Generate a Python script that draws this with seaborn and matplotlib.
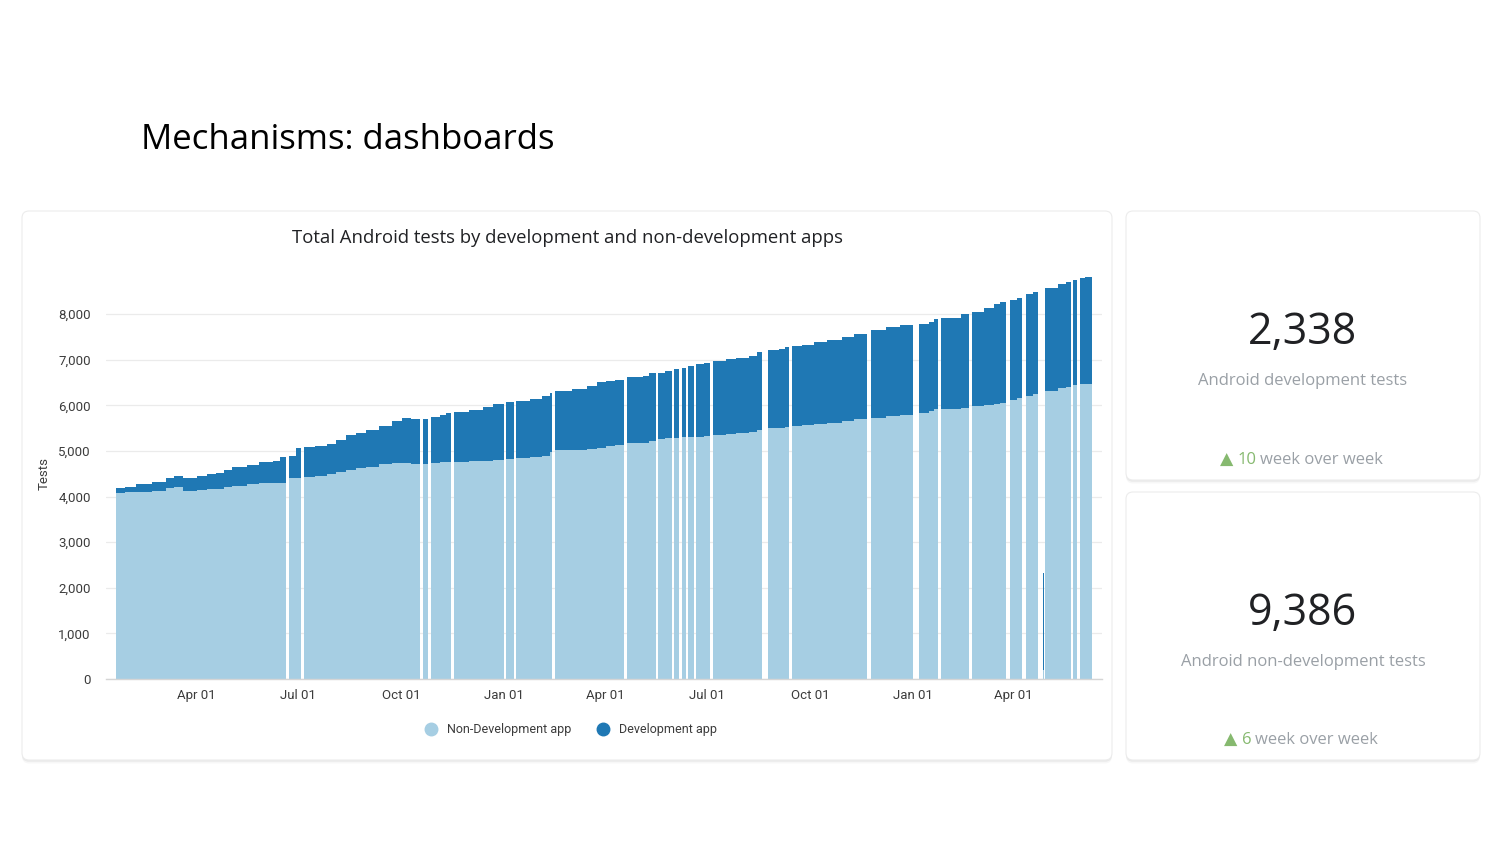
"""
Dashboard slide: daily Android test counts split by development / non-development apps,
plus two KPI cards on the right.
"""

import numpy as np
import pandas as pd
import matplotlib
matplotlib.use("Agg")
import matplotlib.pyplot as plt
import matplotlib.dates as mdates
from matplotlib.lines import Line2D
from matplotlib.patches import FancyBboxPatch
from matplotlib.ticker import FuncFormatter
import seaborn as sns

sns.set_style("whitegrid")
plt.rcParams["font.family"] = ["Roboto", "DejaVu Sans"]

# --- data ---
# each row starts a run of days that holds the same value until the next row;
# rows with 0 / 0 are days without any data (white gaps in the chart)
bar_start = [
    "2019-01-19", "2019-01-27", "2019-02-06", "2019-02-20", "2019-03-05", "2019-03-12",
    "2019-03-20", "2019-04-01", "2019-04-10", "2019-04-18", "2019-04-26", "2019-05-03",
    "2019-05-16", "2019-05-27", "2019-06-08", "2019-06-15", "2019-06-20", "2019-06-23",
    "2019-06-29", "2019-07-03", "2019-07-06", "2019-07-16", "2019-07-27", "2019-08-04",
    "2019-08-13", "2019-08-22", "2019-08-31", "2019-09-11", "2019-09-23", "2019-10-02",
    "2019-10-10", "2019-10-18", "2019-10-21", "2019-10-25", "2019-10-28", "2019-11-05",
    "2019-11-10", "2019-11-15", "2019-11-17", "2019-12-01", "2019-12-13", "2019-12-22",
    "2020-01-01", "2020-01-03", "2020-01-10", "2020-01-12", "2020-01-24", "2020-02-04",
    "2020-02-11", "2020-02-13", "2020-02-16", "2020-03-02", "2020-03-15", "2020-03-24",
    "2020-04-01", "2020-04-09", "2020-04-17", "2020-04-20", "2020-05-04", "2020-05-10",
    "2020-05-16", "2020-05-18", "2020-05-24", "2020-05-30", "2020-06-01", "2020-06-06",
    "2020-06-08", "2020-06-12", "2020-06-14", "2020-06-19", "2020-06-21", "2020-06-28",
    "2020-07-03", "2020-07-06", "2020-07-18", "2020-07-27", "2020-08-07", "2020-08-14",
    "2020-08-19", "2020-08-24", "2020-09-03", "2020-09-08", "2020-09-12", "2020-09-15",
    "2020-09-24", "2020-10-04", "2020-10-16", "2020-10-29", "2020-11-09", "2020-11-21",
    "2020-11-24", "2020-12-08", "2020-12-20", "2021-01-01", "2021-01-06", "2021-01-15",
    "2021-01-20", "2021-01-23", "2021-01-26", "2021-02-05", "2021-02-13", "2021-02-20",
    "2021-02-23", "2021-03-05", "2021-03-14", "2021-03-20", "2021-03-25", "2021-03-29",
    "2021-04-04", "2021-04-08", "2021-04-12", "2021-04-18", "2021-04-23", "2021-04-27",
    "2021-04-28", "2021-04-29", "2021-05-11", "2021-05-18", "2021-05-22", "2021-05-24",
    "2021-05-28", "2021-05-30", "2021-06-04",
]
data_end = "2021-06-10"

non_dev = [
    4070, 4090, 4110, 4125, 4180, 4205,
    4125, 4145, 4160, 4160, 4200, 4230,
    4270, 4290, 4305, 4305, 0, 4400,
    4400, 0, 4435, 4450, 4500, 4540,
    4585, 4620, 4655, 4710, 4745, 4745,
    4725, 0, 4715, 0, 4745, 4755,
    4765, 0, 4765, 4770, 4780, 4800,
    0, 4815, 0, 4840, 4860, 4890,
    4985, 0, 5020, 5020, 5045, 5075,
    5110, 5125, 0, 5170, 5180, 5225,
    0, 5255, 5280, 0, 5290, 0,
    5300, 0, 5315, 0, 5315, 5330,
    0, 5350, 5370, 5385, 5425, 5460,
    0, 5495, 5495, 5520, 0, 5545,
    5565, 5595, 5620, 5660, 5695, 0,
    5730, 5775, 5790, 0, 5825, 5875,
    5915, 0, 5920, 5920, 5950, 0,
    5995, 6010, 6025, 6045, 0, 6120,
    6155, 0, 6215, 6245, 0, 200,
    0, 6315, 6375, 6410, 0, 6445,
    0, 6460, 6465,
]
dev = [
    110, 130, 165, 205, 220, 255,
    275, 315, 335, 350, 385, 410,
    425, 460, 485, 555, 0, 490,
    660, 0, 645, 660, 660, 710,
    765, 770, 805, 840, 920, 985,
    985, 0, 985, 0, 1010, 1035,
    1060, 0, 1100, 1130, 1180, 1230,
    0, 1250, 0, 1255, 1270, 1310,
    1295, 0, 1305, 1340, 1380, 1445,
    1425, 1435, 0, 1445, 1465, 1480,
    0, 1460, 1480, 0, 1500, 0,
    1525, 0, 1555, 0, 1590, 1605,
    0, 1630, 1650, 1660, 1665, 1720,
    0, 1720, 1740, 1755, 0, 1760,
    1770, 1790, 1810, 1835, 1875, 0,
    1925, 1950, 1975, 0, 1960, 1960,
    1975, 0, 2005, 1990, 2050, 0,
    2060, 2120, 2190, 2215, 0, 2190,
    2195, 0, 2220, 2250, 0, 2130,
    0, 2265, 2280, 2300, 0, 2305,
    0, 2325, 2350,
]

series_names = ["Non-Development app", "Development app"]
y_ticks = [0, 1000, 2000, 3000, 4000, 5000, 6000, 7000, 8000]

kpi_values = ["2,338", "9,386"]
kpi_labels = ["Android development tests", "Android non-development tests"]
kpi_deltas = ["10", "6"]

# --- style ---
W, H = 1500, 844
light, dark = sns.color_palette("Paired")[:2]
TEXT = "#202124"
GREY = "#9aa0a6"
GREEN = "#86b96f"


def fx(px):
    return px / W


def fy(py):
    return 1 - py / H


fig = plt.figure(figsize=(W / 100, H / 100), dpi=100)
fig.patch.set_facecolor("white")


def card(x0, y0, x1, y1):
    left, bottom = x0 / 100, (H - y1) / 100
    w, h = (x1 - x0) / 100, (y1 - y0) / 100
    for off, a in [(0.035, 0.03), (0.018, 0.05)]:
        fig.add_artist(FancyBboxPatch(
            (left, bottom - off), w, h, boxstyle="round,pad=0,rounding_size=0.07",
            transform=fig.dpi_scale_trans, facecolor="black", alpha=a,
            edgecolor="none", zorder=-3))
    fig.add_artist(FancyBboxPatch(
        (left, bottom), w, h, boxstyle="round,pad=0,rounding_size=0.07",
        transform=fig.dpi_scale_trans, facecolor="white", edgecolor="#ececec",
        linewidth=0.8, zorder=-2))


card(22, 211, 1112, 760)
card(1126, 211, 1480, 480)
card(1126, 492, 1480, 760)

fig.text(fx(141), fy(140), "Mechanisms: dashboards", fontsize=25, color="black",
         ha="left", va="center", family=["Open Sans", "DejaVu Sans"])
fig.text(fx(567), fy(238), "Total Android tests by development and non-development apps",
         fontsize=13.3, color=TEXT, ha="center", va="center",
         family=["Open Sans", "DejaVu Sans"])

# --- stacked daily bars ---
ax = fig.add_axes([fx(106), fy(679), fx(1102) - fx(106), fy(268.6) - fy(679)])
ax.patch.set_visible(False)

starts = pd.to_datetime(bar_start)
edges = mdates.date2num(list(starts) + [pd.Timestamp(data_end)])
df = pd.DataFrame({
    "day": edges[:-1],
    "non_dev": non_dev,
    "total": np.add(non_dev, dev),
})

# total drawn dark, non-development drawn light over it -> stacked look
sns.histplot(data=df, x="day", weights="total", bins=list(edges), color=dark,
             alpha=1, linewidth=0, edgecolor="none", ax=ax)
sns.histplot(data=df, x="day", weights="non_dev", bins=list(edges), color=light,
             alpha=1, linewidth=0, edgecolor="none", ax=ax)

ax.set_xlim(mdates.date2num(pd.Timestamp("2019-01-10")),
            mdates.date2num(pd.Timestamp("2021-06-19")))
ax.set_ylim(0, 9000)
ax.set_yticks(y_ticks)
ax.yaxis.set_major_formatter(FuncFormatter(lambda v, _: f"{v:,.0f}"))
ax.xaxis.set_major_locator(mdates.MonthLocator(bymonth=[1, 4, 7, 10]))
ax.xaxis.set_major_formatter(mdates.DateFormatter("%b %d"))

ax.grid(axis="x", visible=False)
ax.grid(axis="y", color="#ebebeb", linewidth=0.9)
ax.set_axisbelow(True)
for side in ["top", "right", "left"]:
    ax.spines[side].set_visible(False)
ax.spines["bottom"].set_color("#d5d5d5")
ax.spines["bottom"].set_linewidth(1.0)
ax.tick_params(axis="both", length=0, labelsize=9.5, colors="#3c3c3c")
ax.tick_params(axis="x", pad=7)
ax.tick_params(axis="y", pad=11)

ax.set_xlabel("")
ax.set_ylabel("Tests", fontsize=9.5, color="#3c3c3c")
ax.yaxis.set_label_coords((51 - 106) / 996, 0.5)

handles = [Line2D([], [], marker="o", linestyle="", markersize=9, color=c)
           for c in (light, dark)]
fig.legend(handles, series_names, loc="center", bbox_to_anchor=(fx(568), fy(730)),
           ncol=2, frameon=False, fontsize=9, handletextpad=0.3, columnspacing=1.5,
           labelcolor="#3c3c3c")

# --- KPI cards ---
kpi_rows = [(333, 381, 460), (614, 662, 740)]
delta_x = [(1227, 1238, 1260), (1231, 1242, 1255)]
for (yv, yl, yd), (xa, xn, xw), value, label, delta in zip(
        kpi_rows, delta_x, kpi_values, kpi_labels, kpi_deltas):
    fig.text(fx(1303), fy(yv), value, fontsize=31, color=TEXT, ha="center", va="center",
             family=["Open Sans", "DejaVu Sans"])
    fig.text(fx(1303), fy(yl), label, fontsize=12, color=GREY, ha="center", va="center",
             family=["Open Sans", "DejaVu Sans"])
    fig.text(fx(xa), fy(yd), "\u25B2", fontsize=12.5, color=GREEN, ha="center",
             va="center", family=["DejaVu Sans"])
    fig.text(fx(xn), fy(yd), delta, fontsize=12, color=GREEN, ha="left", va="center",
             family=["Open Sans", "DejaVu Sans"])
    fig.text(fx(xw), fy(yd), "week over week", fontsize=12, color=GREY, ha="left",
             va="center", family=["Open Sans", "DejaVu Sans"])

fig.savefig("out.png", dpi=100, facecolor="white")
plt.close(fig)
